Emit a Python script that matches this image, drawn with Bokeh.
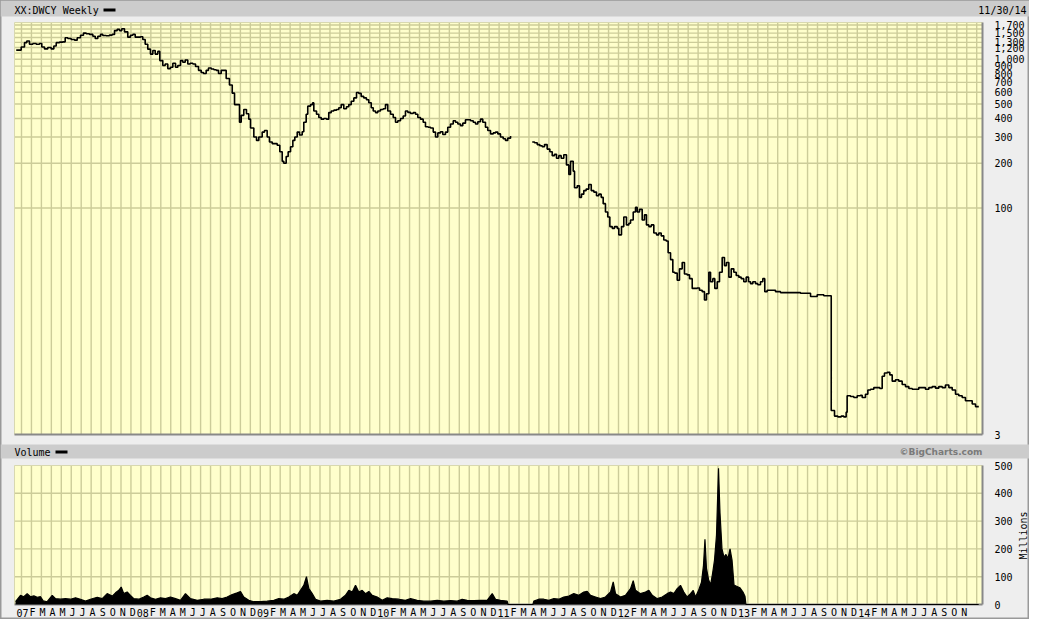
import math
from bokeh.plotting import figure
from bokeh.models import Range1d, LogScale, LinearScale
from bokeh.core.properties import value
from bokeh.embed import file_html
from bokeh.resources import INLINE

# ---------------- data (t = months since Jan 2007) ----------------
price_a_t = [-0.53,-0.20,-0.03,0.30,0.53,0.80,1.14,1.48,1.81,2.04,2.31,2.64,2.98,3.25,3.49,3.82,4.15,4.39,4.65,4.99,
             5.33,5.60,5.93,6.23,6.50,6.83,7.17,7.41,7.67,7.94,8.17,8.51,8.84,9.12,9.35,9.62,9.85,10.08,10.35,10.68,
             10.95,11.19,11.43,11.69,11.96,12.19,12.43,12.69,12.96,13.20,13.44,13.70,13.90,14.20,14.44,14.70,14.97,15.21,15.48,15.71,
             15.98,16.21,16.45,16.71,16.95,17.22,17.49,17.79,18.06,18.29,18.56,18.79,19.07,19.33,19.57,19.80,20.07,20.33,20.57,20.90,
             21.18,21.41,21.68,21.91,22.08,22.34,22.61,22.84,23.02,23.35,23.62,23.85,24.19,24.42,24.69,24.92,25.20,25.43,25.70,25.96,
             26.20,26.36,26.60,26.80,27.04,27.27,27.47,27.71,27.94,28.21,28.37,28.61,28.77,29.05,29.25,29.38,29.65,29.88,30.12,30.38,
             30.65,30.88,31.13,31.39,31.66,31.89,32.13,32.39,32.66,32.89,33.14,33.40,33.67,33.90,34.14,34.40,34.67,34.90,35.15,35.35,
             35.58,35.81,36.08,36.35,36.58,36.81,37.09,37.36,37.59,37.82,38.09,38.36,38.59,38.82,39.10,39.37,39.60,39.83,40.10,40.37,
             40.60,40.87,41.11,41.38,41.61,41.84,42.11,42.34,42.61,42.84,43.12,43.39,43.62,43.85,44.12,44.35,44.62,44.85,45.13,45.40,
             45.63,45.86,46.13,46.36,46.63,46.86,47.14,47.41,47.64,47.87,48.14,48.41,48.64,48.87,49.15]
price_a_v = [1153,1153,1211,1294,1327,1262,1277,1262,1277,1211,1175,1200,1175,1230,1294,1305,1310,1396,1380,1360,
             1345,1396,1452,1500,1485,1470,1430,1380,1430,1470,1445,1440,1455,1470,1560,1590,1560,1606,1530,1409,
             1452,1470,1409,1409,1417,1360,1262,1170,1084,1145,1084,1130,980,909,930,866,885,940,885,909,
             980,955,990,930,940,930,895,843,815,802,843,875,860,850,843,802,843,843,743,672,
             592,496,496,377,420,460,430,396,345,300,285,300,324,332,300,278,271,271,264,239,
             206,200,222,239,258,285,300,324,310,326,377,427,484,496,509,449,427,406,396,400,
             396,438,449,455,460,472,496,465,480,496,522,550,598,590,563,550,535,510,472,449,
             438,449,460,465,496,449,427,406,377,386,400,416,449,440,432,438,427,406,396,377,
             352,349,345,324,300,320,326,312,324,349,367,386,377,367,358,372,392,392,386,377,
             367,380,396,377,349,332,315,320,324,315,300,292,285,295,305]

price_b_t = [51.33,51.56,51.83,52.09,52.33,52.56,52.83,53.10,53.34,53.57,53.77,54.00,54.24,54.50,54.77,55.01,55.18,55.45,55.58,55.85,
             56.08,56.28,56.51,56.75,57.01,57.26,57.52,57.79,58.02,58.26,58.46,58.69,58.92,59.13,59.37,59.60,59.87,60.03,60.30,60.53,
             60.80,61.04,61.21,61.48,61.71,61.88,62.11,62.38,62.61,62.81,63.05,63.29,63.55,63.82,64.05,64.29,64.55,64.79,64.99,65.23,
             65.46,65.66,65.90,66.13,66.40,66.63,66.90,67.14,67.41,67.64,67.91,68.14,68.41,68.64,68.84,69.08,69.25,69.48,69.68,69.92,
             70.15,70.42,70.65,70.85,71.09,71.33,71.59,71.83,72.09,72.33,72.59,72.83,73.07,73.27,73.50,73.77,74.00,74.27,74.50,74.70,
             74.94,75.28,75.78,76.28,77.29,78.29,79.30,79.97,80.63,81.38,81.71,82.04,82.38,82.64,82.88,82.98,83.32,83.65,83.99,84.32,
             84.49,84.82,85.06,85.33,85.66,86.00,86.26,86.50,86.73,87.01,87.27,87.51,87.84,88.17,88.51,88.84,89.18,89.52,89.85,90.18,
             90.52,90.85,91.19,91.53,91.86,92.19,92.53,92.86,93.20,93.54,93.87,94.20,94.54,94.87,95.21,95.55,95.88,96.21]
price_b_v = [278,275,267,262,258,267,249,239,225,230,216,225,216,228,195,168,206,177,137,141,
             118,124,131,134,144,131,128,121,124,118,107,94,87,75,73,75,73,66,75,87,
             77,79,83,94,101,94,98,83,90,77,75,77,68,66,68,65,61,60,50,45,
             37,36.5,32.7,39,43,36,35.5,33.5,28.8,28.8,29,28,27.4,24.1,26.5,37,31.9,33.5,28.8,31.9,
             37,46.5,41,43,34.3,39,37,35.2,34.3,33.5,31.9,34.3,31.9,31,31.9,31,30.5,31.9,33.5,27.4,
             28,28,27.4,27,27,26.7,25.4,26.1,25.7,4.35,3.99,3.94,3.99,3.94,4.24,5.46,5.4,5.32,5.46,5.5,
             5.32,5.6,5.98,6.04,6.2,6.2,6.12,7.39,7.77,7.85,7.55,6.85,7.0,6.85,6.51,6.3,6.12,6.04,6.04,6.2,
             6.2,6.04,6.2,6.3,6.15,6.3,6.2,6.45,6.2,5.98,5.6,5.46,5.32,5.06,5.06,4.81,4.62,4.62]

# volume, millions
vol_t = [-0.60,-0.10,0.23,0.57,0.90,1.24,1.58,1.91,2.18,2.58,3.09,3.42,3.92,4.42,4.92,5.43,5.93,6.43,6.93,7.61,
         8.11,8.61,9.12,9.45,9.78,10.02,10.28,10.62,10.95,11.29,11.79,12.29,12.63,12.96,13.47,13.97,14.47,14.97,15.48,15.98,
         16.48,16.98,17.66,18.32,18.99,19.67,20.17,20.67,21.18,21.68,22.01,22.34,22.84,23.35,24.02,24.69,25.36,25.86,26.36,26.87,
         27.37,27.71,28.04,28.37,28.64,28.88,29.22,29.55,30.05,30.72,31.39,32.06,32.56,32.90,33.24,33.57,33.90,34.24,34.57,34.91,
         35.25,35.75,36.25,36.75,37.26,37.92,38.59,39.10,39.77,40.43,41.11,41.78,42.44,43.12,43.79,44.29,44.79,45.46,46.13,46.80,
         47.31,47.64,48.14,48.81,48.90,51.40,
         51.49,51.99,52.49,53.00,53.50,54.00,54.50,55.01,55.51,56.01,56.51,56.85,57.19,57.69,58.19,58.69,59.20,59.47,59.70,60.20,
         60.70,61.21,61.48,61.71,62.21,62.71,63.05,63.39,63.89,64.39,64.89,65.23,65.56,65.90,66.23,66.56,66.90,67.24,67.51,67.74,
         68.04,68.34,68.54,68.69,68.84,69.05,69.25,69.45,69.65,69.85,70.05,70.20,70.40,70.60,70.80,71.00,71.21,71.41,71.61,71.91,
         72.21,72.51,72.71,72.81,96.20]
vol_v = [10,33,28,39,28,31,26,28,13,10,33,21,19,21,19,24,19,12,19,26,
         21,39,30,42,51,63,39,45,33,21,19,27,33,24,19,24,21,27,21,15,
         39,21,15,19,19,24,21,27,36,42,47,27,15,10,10,12,15,21,19,27,
         39,33,51,69,100,57,39,19,12,15,12,19,33,51,45,69,45,51,39,47,
         33,27,15,24,21,19,15,21,15,12,12,15,12,14,12,19,15,14,15,15,
         39,19,15,12,0,0,
         12,19,19,15,21,19,27,30,39,33,45,47,33,27,21,27,45,81,39,27,
         33,57,86,51,39,45,51,33,21,27,39,45,39,57,69,45,27,39,51,27,
         50,80,140,235,130,90,70,110,160,250,490,330,200,170,180,165,200,160,70,65,
         60,45,30,0,0]

price_tick_values = [1700, 1500, 1300, 1200, 1000, 900, 800, 700, 600, 500, 400, 300, 200, 100, 3]
price_grid_values = [100, 200, 300, 400, 500, 600, 700, 800, 900, 1000, 1100, 1200, 1300, 1400, 1500, 1600, 1700]
vol_tick_values = [0, 100, 200, 300, 400, 500]
vol_grid_values = [100, 200, 300, 400]
years = ["07", "08", "09", "10", "11", "12", "13", "14"]
month_initials = ["F", "M", "A", "M", "J", "J", "A", "S", "O", "N", "D"]

# ---------------- layout (canvas pixels) ----------------
W, H = 1029, 619
PX0, PX1 = 14, 982
TB_BOT = 16
PR_TOP, PR_BOT = 22, 434
VB_TOP, VB_BOT = 444, 458
VO_TOP, VO_BOT = 465, 604
LAB_Y = 612
M0_PX = 21.0
PPM = 9.95
LABEL_STRETCH = 1.007
PRICE_TOP_VAL, PRICE_BOT_VAL = 1768.0, 3.0

def px2m(px):
    return (px - M0_PX) / PPM

x_start, x_end = px2m(0), px2m(W)
dpp = math.log10(PRICE_TOP_VAL / PRICE_BOT_VAL) / (PR_BOT - PR_TOP)
p_hi = 10 ** (math.log10(PRICE_TOP_VAL) + PR_TOP * dpp)
p_lo = 10 ** (math.log10(PRICE_BOT_VAL) - (H - PR_BOT) * dpp)
vpp = 500.0 / (VO_BOT - VO_TOP)
v_lo = -(H - VO_BOT) * vpp
v_hi = VO_BOT * vpp

BG = "#EEEEEE"
BAND = "#CCCCCC"
PANEL = "#FFFFCC"
GRID = "#CCCC99"
SHADOW = "#888888"
MONO = value("DejaVu Sans Mono")

p = figure(width=W, height=H, x_range=Range1d(x_start, x_end), y_range=Range1d(H, 0),
           output_backend="svg", toolbar_location=None, min_border=0,
           x_axis_location=None, y_axis_location=None, title=None,
           background_fill_color=BG, border_fill_color=BG)
p.grid.visible = False
p.outline_line_color = "#999999"
p.outline_line_width = 2
p.extra_y_ranges = {"price": Range1d(p_lo, p_hi), "vol": Range1d(v_lo, v_hi)}
p.extra_y_scales = {"price": LogScale(), "vol": LinearScale()}

L, R = px2m(PX0), px2m(PX1)

# bands
p.quad(left=[x_start, x_start], right=[x_end, x_end], top=[0, VB_TOP], bottom=[TB_BOT, VB_BOT],
       fill_color=BAND, line_color=None)
# panels
p.quad(left=[L, L], right=[R, R], top=[PR_TOP, VO_TOP], bottom=[PR_BOT, VO_BOT],
       fill_color=PANEL, line_color=None)

# vertical month grid lines
months = list(range(0, 97))
for top, bot in [(PR_TOP, PR_BOT), (VO_TOP, VO_BOT)]:
    p.segment(x0=months, x1=months, y0=[top] * len(months), y1=[bot] * len(months),
              line_color=GRID, line_width=1.4)
# horizontal grid
p.segment(x0=[L] * len(price_grid_values), x1=[R] * len(price_grid_values),
          y0=price_grid_values, y1=price_grid_values, y_range_name="price",
          line_color=GRID, line_width=1.4)
p.segment(x0=[L] * len(vol_grid_values), x1=[R] * len(vol_grid_values),
          y0=vol_grid_values, y1=vol_grid_values, y_range_name="vol",
          line_color=GRID, line_width=1.4)

# panel borders (light top/left, shadow bottom/right)
for top, bot in [(PR_TOP, PR_BOT), (VO_TOP, VO_BOT)]:
    p.segment(x0=[L, L], x1=[R, L], y0=[top, top], y1=[top, bot], line_color="#D8D8B0", line_width=1)
    p.segment(x0=[L, R], x1=[R, R], y0=[bot, top], y1=[bot, bot], line_color=SHADOW, line_width=2)

# price
p.step(price_a_t, price_a_v, mode="after", y_range_name="price", line_color="black", line_width=1.6)
p.step(price_b_t, price_b_v, mode="after", y_range_name="price", line_color="black", line_width=1.6)

# volume
p.varea(x=vol_t, y1=[0] * len(vol_t), y2=vol_v, y_range_name="vol", fill_color="black")
p.line(vol_t, vol_v, y_range_name="vol", line_color="black", line_width=1.2)

# header texts
p.text(x=[px2m(14)], y=[9.5], text=["XX:DWCY Weekly"], text_font=MONO, text_font_size="10px",
       text_baseline="middle", text_color="black")
p.quad(left=[px2m(103)], right=[px2m(115)], top=[8], bottom=[11], fill_color="black", line_color=None)
p.text(x=[px2m(1026)], y=[9.5], text=["11/30/14"], text_font=MONO, text_font_size="10px",
       text_baseline="middle", text_align="right", text_color="black")

p.text(x=[px2m(14)], y=[451.5], text=["Volume"], text_font=MONO, text_font_size="10px",
       text_baseline="middle", text_color="black")
p.quad(left=[px2m(55)], right=[px2m(67)], top=[450], bottom=[453], fill_color="black", line_color=None)
p.text(x=[px2m(982)], y=[451.5], text=["©BigCharts.com"], text_font=value("DejaVu Sans"),
       text_font_size="9px", text_font_style="bold", text_baseline="middle", text_align="right",
       text_color="#7A7A7A")

# price tick labels
p.text(x=[px2m(994)] * len(price_tick_values), y=price_tick_values,
       text=[f"{v:,}" for v in price_tick_values], y_range_name="price",
       text_font=MONO, text_font_size="10px", text_baseline="middle", text_color="black")
# volume tick labels
p.text(x=[px2m(994)] * len(vol_tick_values), y=vol_tick_values,
       text=[str(v) for v in vol_tick_values], y_range_name="vol",
       text_font=MONO, text_font_size="10px", text_baseline="middle", text_color="black")
p.text(x=[px2m(1023)], y=[535], text=["Millions"], angle=math.pi / 2, text_font=MONO,
       text_font_size="10px", text_baseline="middle", text_align="center", text_color="black")

# month labels
lab_x, lab_t = [], []
for i, yr in enumerate(years):
    for j, lab in enumerate([yr] + month_initials):
        m = i * 12 + j
        if m > 94:
            continue
        lab_x.append(m * LABEL_STRETCH + 0.1)
        lab_t.append(lab)
p.text(x=lab_x, y=[LAB_Y] * len(lab_x), text=lab_t, text_font=MONO, text_font_size="10px",
       text_baseline="middle", text_align="center", text_color="black")

open("out.html", "w").write(file_html(p, INLINE))
